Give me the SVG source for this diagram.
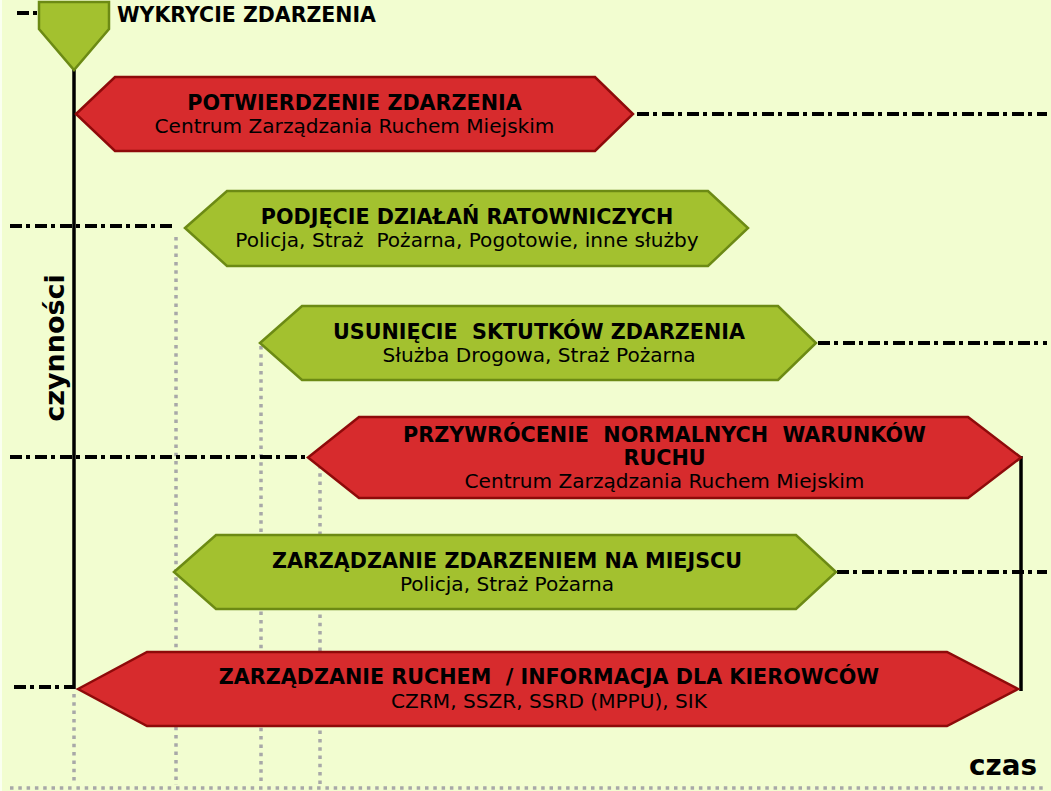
<svg xmlns="http://www.w3.org/2000/svg" width="1051" height="791" viewBox="0 0 1051 791">
<style>
text{font-family:"DejaVu Sans","Verdana",sans-serif;fill:#000;white-space:pre}
.t{font-weight:bold;font-size:20.7px;text-anchor:middle}
.s{font-size:20.1px;text-anchor:middle}
.red{fill:#D72B2D;stroke:#8E0A0A;stroke-width:2.5}
.grn{fill:#A3C12F;stroke:#6C8A14;stroke-width:2.5}
.dd{stroke:#000;stroke-width:3.8;stroke-dasharray:12 4 4 5;fill:none}
.dot{stroke:#A8A8A8;stroke-width:3.5;stroke-dasharray:3.5 4.8;fill:none}
.ax{stroke:#000;stroke-width:3.5;fill:none}
</style>
<rect x="0" y="0" width="1051" height="791" fill="#F2FDD0"/>
<rect x="0" y="0" width="2" height="791" fill="#FAFFF0"/>
<g id="connectors">
<line class="dot" x1="74" y1="694" x2="74" y2="785"/>
<line class="dot" x1="176" y1="237" x2="176" y2="785"/>
<line class="dot" x1="261" y1="346" x2="261" y2="785"/>
<line class="dot" x1="320" y1="465" x2="320" y2="785"/>
<line class="dot" x1="10" y1="788" x2="1047" y2="788"/>
<line class="dd" x1="17" y1="13" x2="39" y2="13"/>
<line class="dd" x1="637" y1="114" x2="1047" y2="114"/>
<line class="dd" x1="10" y1="226" x2="172" y2="226"/>
<line class="dd" x1="818" y1="343" x2="1047" y2="343"/>
<line class="dd" x1="10" y1="457" x2="318" y2="457"/>
<line class="dd" x1="837" y1="572" x2="1047" y2="572"/>
<line class="dd" x1="14" y1="687" x2="74" y2="687"/>
<line class="ax" x1="74" y1="68" x2="74" y2="689"/>
<line class="ax" x1="1021" y1="456" x2="1021" y2="691"/>
</g>
<g id="start">
<polygon class="grn" points="39,2 109,2 109,29 74,70 39,29"/>
<text x="117" y="22" style="font-weight:bold;font-size:20.5px">WYKRYCIE ZDARZENIA</text>
</g>
<g id="n1">
<polygon class="red" points="76,114 115,77 595,77 633,114 595,151 115,151"/>
<text class="t" x="354.5" y="110">POTWIERDZENIE ZDARZENIA</text>
<text class="s" x="354.5" y="133">Centrum Zarządzania Ruchem Miejskim</text>
</g>
<g id="n2">
<polygon class="grn" points="185,228 227,191 708,191 748,228 708,266 227,266"/>
<text class="t" x="467" y="224">PODJĘCIE DZIAŁAŃ RATOWNICZYCH</text>
<text class="s" x="467" y="247">Policja, Straż  Pożarna, Pogotowie, inne służby</text>
</g>
<g id="n3">
<polygon class="grn" points="260,343 302,306 778,306 816,343 778,380 302,380"/>
<text class="t" x="539" y="339">USUNIĘCIE  SKTUTKÓW ZDARZENIA</text>
<text class="s" x="539" y="362">Służba Drogowa, Straż Pożarna</text>
</g>
<g id="n4">
<polygon class="red" points="308,457.5 359,417 968,417 1021,457.5 968,498 359,498"/>
<text class="t" x="664.5" y="442">PRZYWRÓCENIE  NORMALNYCH  WARUNKÓW</text>
<text class="t" x="664.5" y="465">RUCHU</text>
<text class="s" x="664.5" y="488">Centrum Zarządzania Ruchem Miejskim</text>
</g>
<g id="n5">
<polygon class="grn" points="174,572 216,535 796,535 836,572 796,609 216,609"/>
<text class="t" x="507" y="568">ZARZĄDZANIE ZDARZENIEM NA MIEJSCU</text>
<text class="s" x="507" y="591">Policja, Straż Pożarna</text>
</g>
<g id="n6">
<polygon class="red" points="78,689 147,652 947,652 1018,689 947,726 147,726"/>
<text class="t" x="549" y="684">ZARZĄDZANIE RUCHEM  / INFORMACJA DLA KIEROWCÓW</text>
<text class="s" x="549" y="708">CZRM, SSZR, SSRD (MPPU), SIK</text>
</g>
<g id="labels">
<text x="64" y="348" transform="rotate(-90 64 348)" style="font-weight:bold;font-size:27px;text-anchor:middle">czynności</text>
<text x="1037" y="775" style="font-weight:bold;font-size:27.8px;text-anchor:end">czas</text>
</g>
</svg>
